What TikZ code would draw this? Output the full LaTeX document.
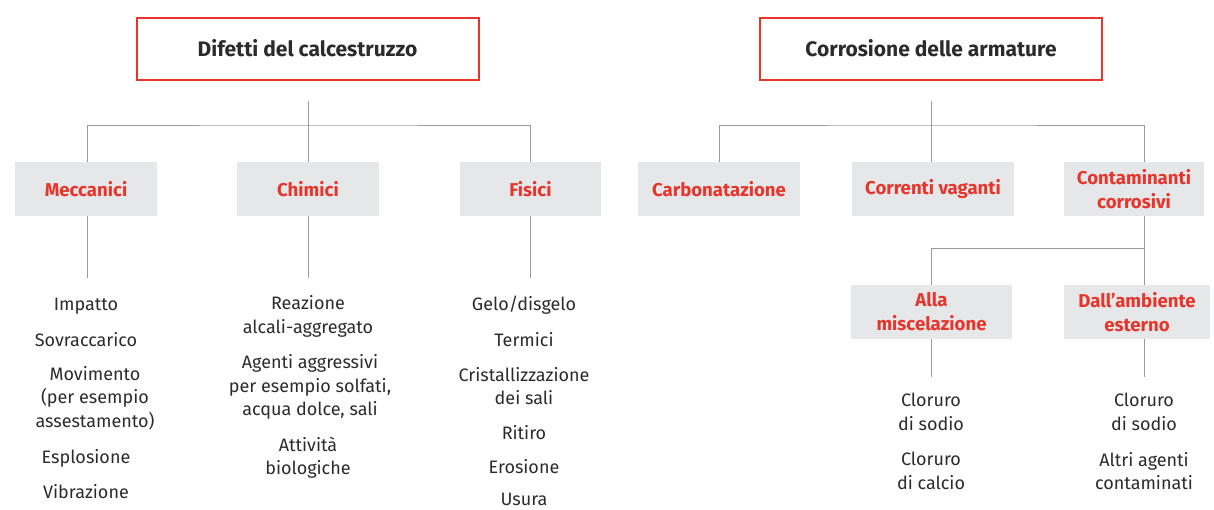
\documentclass[tikz,border=0pt]{standalone}
\usepackage{fontspec}
\setmainfont{Fira Sans}
\definecolor{redc}{HTML}{E8352B}
\definecolor{boxgray}{HTML}{E6E7E9}
\definecolor{linegray}{HTML}{9A9A9A}
\definecolor{textc}{HTML}{2B2B2B}
\begin{document}
\begin{tikzpicture}[x=1pt,y=-1pt,
  topbox/.style={draw=redc,line width=2pt,fill=white,minimum width=342pt,minimum height=62pt,font=\fontsize{21}{24}\selectfont\bfseries,text=textc,inner sep=0pt},
  catbox/.style={fill=boxgray,minimum height=54pt,font=\fontsize{18.6}{24}\selectfont\bfseries,text=redc,align=center,inner sep=0pt},
  item/.style={font=\fontsize{18}{23.5}\selectfont,text=textc,align=center,inner sep=0pt},
  conn/.style={draw=linegray,line width=1pt}]
\useasboundingbox (0,0) rectangle (1214,509);
% top boxes
\node[topbox] (dif) at (307.5,48.5) {Difetti del calcestruzzo};
\node[topbox] (cor) at (931,48.5) {Corrosione delle armature};
% categories left
\node[catbox,minimum width=142pt] (mec) at (86,189) {Meccanici};
\node[catbox,minimum width=142pt] (chi) at (308,189) {Chimici};
\node[catbox,minimum width=141pt] (fis) at (530.5,189) {Fisici};
% categories right
\node[catbox,minimum width=162pt] (car) at (719,189) {Carbonatazione};
\node[catbox,minimum width=162pt] (cvg) at (933,189) {Correnti vaganti};
\node[catbox,minimum width=140pt] (con) at (1134,189) {Contaminanti\\corrosivi};
\node[catbox,minimum width=161pt] (mis) at (931.5,312) {Alla\\miscelazione};
\node[catbox,minimum width=146pt] (amb) at (1137,312) {Dall'ambiente\\esterno};
% connectors left tree
\coordinate (dbar) at (308,125);
\draw[conn] ([yshift=-20pt]dif.south -| dbar) -- (dbar);
\draw[conn] ([xshift=1pt]mec.north) |- (dbar) -| (fis.north);
\draw[conn] (chi.north) -- (chi.north |- dbar);
\draw[conn] ([xshift=1pt]mec.south) -- ++(0,62);
\draw[conn] (chi.south) -- ++(0,62);
\draw[conn] (fis.south) -- ++(0,62);
% connectors right tree
\coordinate (cbar) at (931,125);
\draw[conn] ([yshift=-20pt]cor.south) -- (cbar);
\draw[conn] (car.north) |- (cbar) -| ([xshift=10pt]con.north);
\draw[conn] (cvg.north -| cbar) -- (cbar);
\coordinate (kbar) at (1144,248);
\draw[conn] ([xshift=10pt]con.south) -- (kbar);
\draw[conn] (mis.north) |- (kbar) -- ([xshift=7pt]amb.north);
\draw[conn] (mis.south) -- ++(0,38);
\draw[conn] ([xshift=7pt]amb.south) -- ++(0,38);
% items Meccanici
\node[item] (m1) at (86,306) {Impatto};
\node[item] (m2) at (86,340) {Sovraccarico};
\node[item] (m3) at (95,398) {Movimento\\(per esempio\\assestamento)};
\node[item] (m4) at (86,458) {Esplosione};
\node[item] (m5) at (86,492) {Vibrazione};
% items Chimici
\node[item] (c1) at (308,316.5) {Reazione\\alcali-aggregato};
\node[item] (c2) at (310,387) {Agenti aggressivi\\per esempio solfati,\\acqua dolce, sali};
\node[item] (c3) at (308,457.5) {Attività\\biologiche};
% items Fisici
\node[item] (f1) at (524,305) {Gelo/disgelo};
\node[item] (f2) at (524,340) {Termici};
\node[item] (f3) at (524,386) {Cristallizzazione\\dei sali};
\node[item] (f4) at (524,433) {Ritiro};
\node[item] (f5) at (524,467) {Erosione};
\node[item] (f6) at (524,499) {Usura};
% items right
\node[item] (a1) at (931,412) {Cloruro\\di sodio};
\node[item] (a2) at (931,471) {Cloruro\\di calcio};
\node[item] (b1) at (1144,412) {Cloruro\\di sodio};
\node[item] (b2) at (1144,471) {Altri agenti\\contaminati};
\end{tikzpicture}
\end{document}
